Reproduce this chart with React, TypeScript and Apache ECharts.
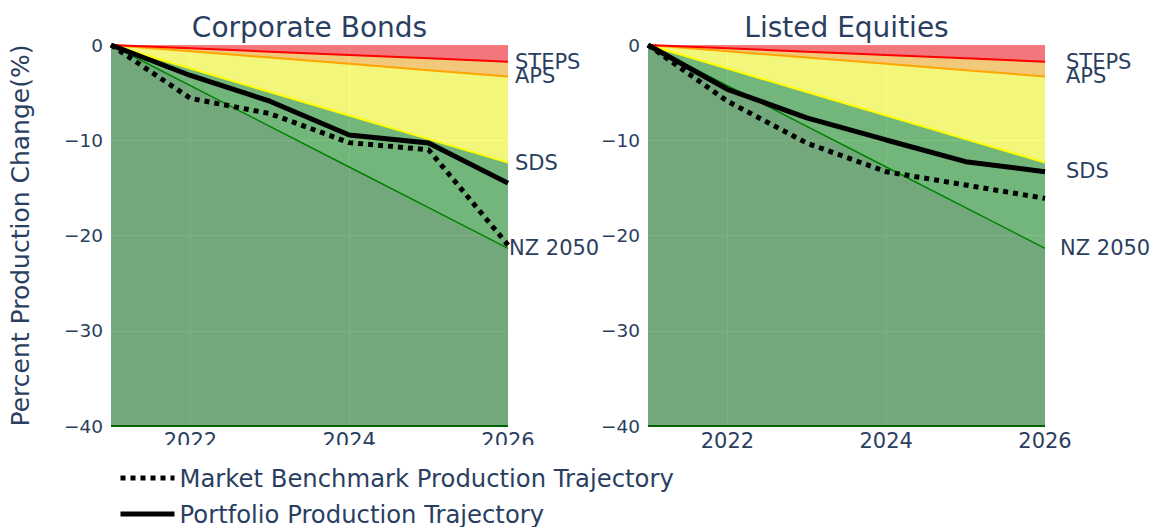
import React, { useEffect, useRef } from "react";
import * as echarts from "echarts";

const years = ["2021", "2022", "2023", "2024", "2025", "2026"];
const panelTitles = ["Corporate Bonds", "Listed Equities"];

// scenario pathways (same in both panels)
const floorLine = [-40, -40, -40, -40, -40, -40];
const steps = [0, -0.35, -0.7, -1.05, -1.4, -1.75];
const aps = [0, -0.66, -1.32, -1.98, -2.64, -3.3];
const sds = [0, -2.47, -4.94, -7.41, -9.88, -12.35];
const nz2050 = [0, -4.27, -8.54, -12.81, -17.08, -21.35];

// Corporate Bonds
const bondsPortfolio = [0, -3.2, -5.9, -9.45, -10.3, -14.5];
const bondsBenchmark = [0, -5.6, -7.2, -10.25, -11.0, -21.0];
// Listed Equities
const equitiesPortfolio = [0, -4.65, -7.65, -9.97, -12.25, -13.3];
const equitiesBenchmark = [0, -5.9, -10.3, -13.3, -14.7, -16.1];

const yTicks = [0, -10, -20, -30, -40];

const FONT = "DejaVu Sans";
const TXT = "#2a3f5f";
const BENCH = "Market Benchmark Production Trajectory";
const PORT = "Portfolio Production Trajectory";

function diff(a: number[], b: number[]) {
  return a.map((v, i) => v - b[i]);
}

export default function App() {
  const ref = useRef<HTMLDivElement>(null);
  useEffect(() => {
    if (!ref.current) return;
    const chart = echarts.init(ref.current, null, { renderer: "svg" });
    const grids = [
      { left: 111, top: 45, width: 397, height: 381 },
      { left: 648, top: 45, width: 397, height: 381 },
    ];
    const labelDx = [[7, 7, 7, 1], [21, 21, 21, 15]];
    const labelDy = [[0, 0, 0, 0], [0, 0, 8.5, 0]];
    const portfolios = [bondsPortfolio, equitiesPortfolio];
    const benchmarks = [bondsBenchmark, equitiesBenchmark];

    const series: any[] = [];
    const endLbl = (g: number, k: number, text: string) => ({
      show: true,
      formatter: text,
      distance: 0,
      offset: [labelDx[g][k], labelDy[g][k]],
      align: "left",
      verticalAlign: "middle",
      fontFamily: FONT,
      fontSize: 21,
      color: TXT,
    });
    for (let g = 0; g < 2; g++) {
      const common = {
        type: "line",
        xAxisIndex: g,
        yAxisIndex: g,
        stack: "scen" + g,
        stackStrategy: "all",
        symbol: "none",
        showSymbol: false,
        silent: true,
      };
      series.push({
        ...common,
        name: "floor" + g,
        data: floorLine,
        lineStyle: { color: "darkgreen", width: 2 },
      });
      series.push({
        ...common,
        name: "NZ 2050 " + g,
        data: diff(nz2050, floorLine),
        lineStyle: { color: "green", width: 1.5 },
        areaStyle: { color: "rgba(0,100,0,0.5)", opacity: 1 },
        endLabel: endLbl(g, 3, "NZ 2050"),
      });
      series.push({
        ...common,
        name: "SDS " + g,
        data: diff(sds, nz2050),
        lineStyle: { color: "yellow", width: 2 },
        areaStyle: { color: "rgba(0,128,0,0.5)", opacity: 1 },
        endLabel: endLbl(g, 2, "SDS"),
      });
      series.push({
        ...common,
        name: "APS " + g,
        data: diff(aps, sds),
        lineStyle: { color: "orange", width: 2 },
        areaStyle: { color: "rgba(255,255,0,0.5)", opacity: 1 },
        endLabel: endLbl(g, 1, "APS"),
      });
      series.push({
        ...common,
        name: "STEPS " + g,
        data: diff(steps, aps),
        lineStyle: { color: "red", width: 2 },
        areaStyle: { color: "rgba(255,165,0,0.5)", opacity: 1 },
        endLabel: endLbl(g, 0, "STEPS"),
      });
      series.push({
        ...common,
        name: "top" + g,
        data: steps.map((v) => 0 - v),
        lineStyle: { width: 0 },
        areaStyle: { color: "rgba(255,0,0,0.5)", opacity: 1 },
      });
      series.push({
        type: "line",
        name: BENCH,
        xAxisIndex: g,
        yAxisIndex: g,
        data: benchmarks[g],
        symbol: "none",
        showSymbol: false,
        clip: false,
        z: 5,
        lineStyle: { color: "#000", width: 5, type: [5, 5], cap: "butt" },
        itemStyle: { color: "#000" },
      });
      series.push({
        type: "line",
        name: PORT,
        xAxisIndex: g,
        yAxisIndex: g,
        data: portfolios[g],
        symbol: "none",
        showSymbol: false,
        clip: false,
        z: 5,
        lineStyle: { color: "#000", width: 5 },
        itemStyle: { color: "#000" },
      });
    }

    const evenYear = (i: number) => i % 2 === 1;
    chart.setOption({
      animation: false,
      backgroundColor: "#fff",
      textStyle: { fontFamily: FONT },
      grid: grids.map((g) => ({
        ...g,
        show: true,
        backgroundColor: "#E5ECF6",
        borderWidth: 0,
      })),
      xAxis: [0, 1].map((g) => ({
        type: "category",
        gridIndex: g,
        data: years,
        boundaryGap: false,
        axisLine: { show: false },
        axisTick: { show: false },
        axisLabel: {
          interval: evenYear,
          fontFamily: FONT,
          fontSize: 21,
          color: TXT,
          margin: 4,
        },
        splitLine: { show: true, interval: evenYear, lineStyle: { color: "#fff", width: 1 } },
      })),
      yAxis: [0, 1].map((g) => ({
        type: "value",
        gridIndex: g,
        min: yTicks[yTicks.length - 1],
        max: yTicks[0],
        interval: 10,
        axisLine: { show: false },
        axisTick: { show: false },
        axisLabel: {
          fontFamily: FONT,
          fontSize: 18.5,
          color: TXT,
          margin: 8,
          formatter: (v: number) => String(v).replace("-", "\u2212"),
        },
        splitLine: { show: true, lineStyle: { color: "#fff", width: 1 } },
        name: g === 0 ? "Percent Production Change(%)" : "",
        nameLocation: "middle",
        nameGap: 78,
        nameTextStyle: { fontFamily: FONT, fontSize: 25, color: TXT },
      })),
      legend: {
        data: [BENCH, PORT],
        orient: "vertical",
        left: 108,
        top: 445,
        height: 150,
        padding: [19, 10, 10, 10],
        itemWidth: 54,
        itemHeight: 14,
        itemGap: 8,
        backgroundColor: "#fff",
        selectedMode: false,
        lineStyle: { width: 5 },
        itemStyle: { color: "rgba(0,0,0,0)", borderWidth: 0, opacity: 0 },
        textStyle: { fontFamily: FONT, fontSize: 24.3, color: TXT, lineHeight: 28 },
      },
      graphic: panelTitles.map((t, g) => ({
        type: "text",
        x: grids[g].left + grids[g].width / 2,
        y: 27,
        style: {
          text: t,
          align: "center",
          verticalAlign: "middle",
          fontFamily: FONT,
          fontSize: 28,
          fill: TXT,
        },
      })),
      series,
    });
    return () => chart.dispose();
  }, []);
  return (
    <div
      ref={ref}
      style={{ position: "fixed", left: 0, top: 0, width: 1153, height: 527 }}
    />
  );
}
